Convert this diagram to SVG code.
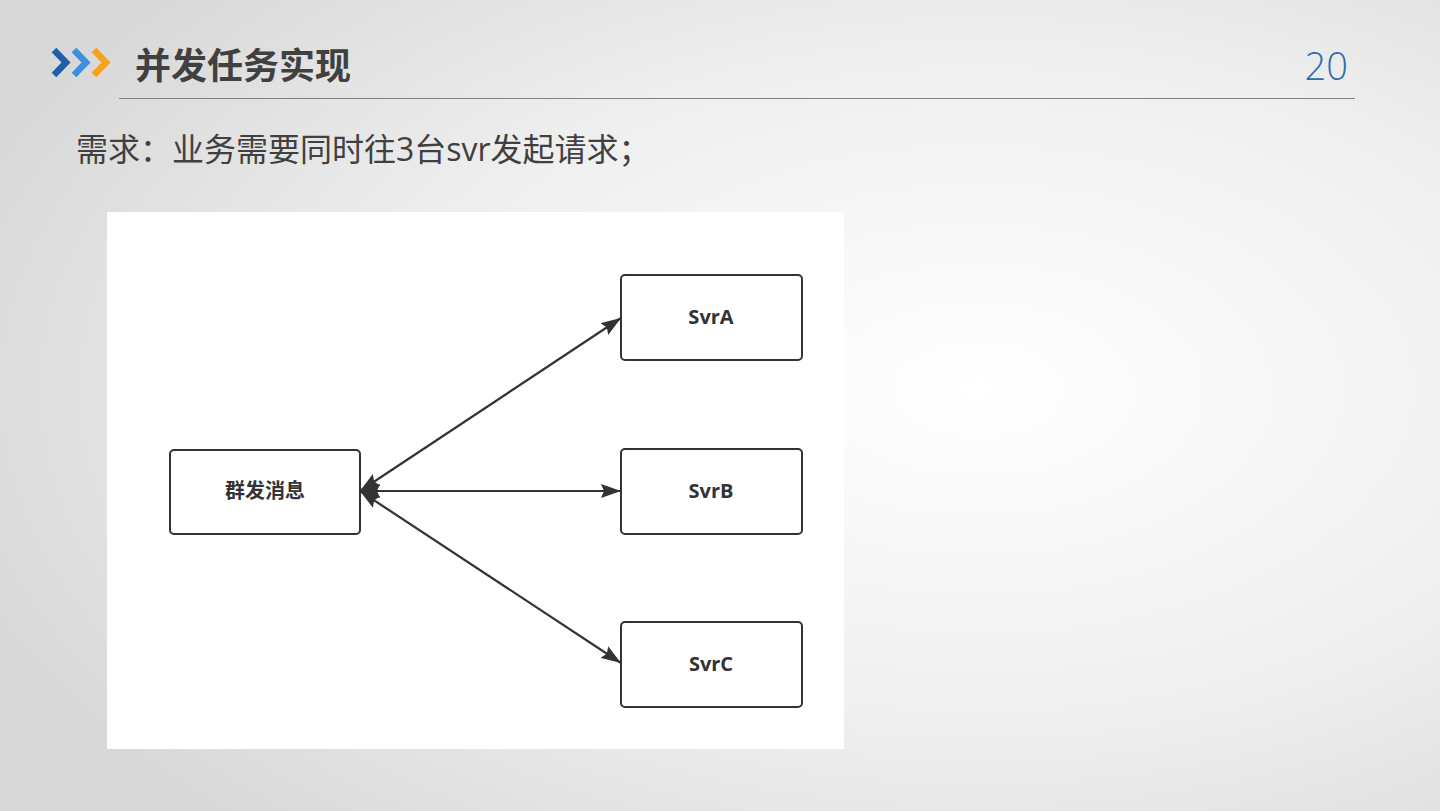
<svg xmlns="http://www.w3.org/2000/svg" width="1440" height="811" viewBox="0 0 1440 811">
<defs>
<radialGradient id="bg" cx="0.68" cy="0.48" r="0.75">
<stop offset="0" stop-color="#ffffff"/>
<stop offset="0.55" stop-color="#efefef"/>
<stop offset="1" stop-color="#d8d8d8"/>
</radialGradient>
<marker id="ah2" viewBox="0 0 20 14" refX="20" refY="7" markerWidth="20" markerHeight="14" markerUnits="userSpaceOnUse" orient="auto-start-reverse">
<path d="M0,0 L20,7 L0,14 L3,7 Z" fill="#333333"/>
</marker>
</defs>
<style>
.node rect{fill:#ffffff;stroke:#333333;stroke-width:2}
.node text{font-family:"Open Sans","Noto Sans CJK SC",sans-serif;font-weight:700;font-size:20px;fill:#333333;text-anchor:middle}
.conn line{stroke:#333333;stroke-width:2.2;marker-start:url(#ah2);marker-end:url(#ah2)}
.chev{fill:none;stroke-width:6.5;stroke-linejoin:miter;stroke-miterlimit:10}
</style>
<rect width="1440" height="811" fill="url(#bg)"/>
<g id="header">
<polyline class="chev" points="54,50 66,62.5 54,75" stroke="#1f5fa8"/>
<polyline class="chev" points="74,50 86,62.5 74,75" stroke="#3d8fdc"/>
<polyline class="chev" points="94,50 106,62.5 94,75" stroke="#f5a11c"/>
<text x="135" y="79" font-family="'Noto Sans CJK SC',sans-serif" font-weight="700" font-size="36" fill="#404040">并发任务实现</text>
<text x="1348" y="80" text-anchor="end" font-family="'Open Sans',sans-serif" font-weight="300" font-size="38" fill="#2a6eb0">20</text>
<line x1="119" y1="98.5" x2="1355" y2="98.5" stroke="#808080" stroke-width="1.2"/>
<text x="76" y="161" font-family="'Open Sans','Noto Sans CJK SC',sans-serif" font-size="32" fill="#404040">需求：业务需要同时往3台svr发起请求；</text>
</g>
<rect x="107" y="212" width="737" height="537" fill="#ffffff"/>
<g id="connectors" class="conn">
<line x1="360" y1="491" x2="621" y2="318"/>
<line x1="360" y1="491" x2="621" y2="491"/>
<line x1="360" y1="491" x2="621" y2="663"/>
</g>
<g id="n-qun" class="node"><rect x="170" y="450" width="190" height="84" rx="4"/><text x="265" y="498">群发消息</text></g>
<g id="n-a" class="node"><rect x="621" y="275" width="181" height="85" rx="4"/><text x="711" y="324">SvrA</text></g>
<g id="n-b" class="node"><rect x="621" y="449" width="181" height="85" rx="4"/><text x="711" y="498">SvrB</text></g>
<g id="n-c" class="node"><rect x="621" y="622" width="181" height="85" rx="4"/><text x="711" y="671">SvrC</text></g>
</svg>
